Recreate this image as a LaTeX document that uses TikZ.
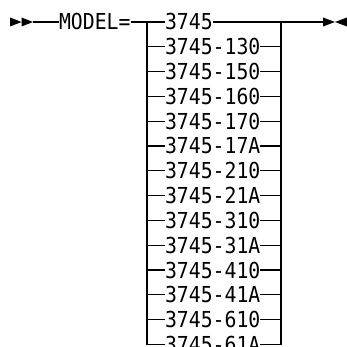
\documentclass[tikz,border=0pt]{standalone}
\usepackage{fontspec}
\setmonofont[FakeStretch=0.9]{DejaVu Sans Mono}
\begin{document}
\begin{tikzpicture}[x=1pt, y=1pt, font=\ttfamily\fontsize{22}{24}\selectfont]
        \tikzset{
            rail/.style={draw=black, line width=1.2pt},
            railTip/.style={fill=black},
            keyword/.style={
                anchor=west,
                inner sep=0pt,
                outer sep=0pt,
                text height=16pt,
                text depth=0pt
            }
        }

        \useasboundingbox (0,0) rectangle (347,-347);

        \coordinate (startArrow) at (33,-22);
        \coordinate (endArrow) at (323,-22);
        \coordinate (leftTop) at (147,-22);
        \coordinate (rightTop) at (281,-22);

        \node[keyword] (modelLabel) at (59,-22) {MODEL=};

        \node[keyword] (opt3745) at (165,-22) {3745};
        \node[keyword] (opt130) at (165,-46.8) {3745-130};
        \node[keyword] (opt150) at (165,-71.6) {3745-150};
        \node[keyword] (opt160) at (165,-96.4) {3745-160};
        \node[keyword] (opt170) at (165,-121.2) {3745-170};
        \node[keyword] (opt17A) at (165,-146) {3745-17A};
        \node[keyword] (opt210) at (165,-170.8) {3745-210};
        \node[keyword] (opt21A) at (165,-195.6) {3745-21A};
        \node[keyword] (opt310) at (165,-220.4) {3745-310};
        \node[keyword] (opt31A) at (165,-245.2) {3745-31A};
        \node[keyword] (opt410) at (165,-270) {3745-410};
        \node[keyword] (opt41A) at (165,-294.8) {3745-41A};
        \node[keyword] (opt610) at (165,-319.6) {3745-610};
        \node[keyword] (opt61A) at (165,-344.4) {3745-61A};

        % main line
        \draw[rail] (startArrow) -- (modelLabel.west);
        \draw[rail] (modelLabel.east) -- (opt3745.west);
        \draw[rail] (opt3745.east) -- (endArrow);

        % left and right bars
        \draw[rail] (leftTop) |- (opt61A.west);
        \draw[rail] (opt61A.east) -| (rightTop);

        \draw[rail] (leftTop |- opt130) -- (opt130.west);
        \draw[rail] (leftTop |- opt150) -- (opt150.west);
        \draw[rail] (leftTop |- opt160) -- (opt160.west);
        \draw[rail] (leftTop |- opt170) -- (opt170.west);
        \draw[rail] (leftTop |- opt17A) -- (opt17A.west);
        \draw[rail] (leftTop |- opt210) -- (opt210.west);
        \draw[rail] (leftTop |- opt21A) -- (opt21A.west);
        \draw[rail] (leftTop |- opt310) -- (opt310.west);
        \draw[rail] (leftTop |- opt31A) -- (opt31A.west);
        \draw[rail] (leftTop |- opt410) -- (opt410.west);
        \draw[rail] (leftTop |- opt41A) -- (opt41A.west);
        \draw[rail] (leftTop |- opt610) -- (opt610.west);

        \draw[rail] (opt130.east) -- (rightTop |- opt130);
        \draw[rail] (opt150.east) -- (rightTop |- opt150);
        \draw[rail] (opt160.east) -- (rightTop |- opt160);
        \draw[rail] (opt170.east) -- (rightTop |- opt170);
        \draw[rail] (opt17A.east) -- (rightTop |- opt17A);
        \draw[rail] (opt210.east) -- (rightTop |- opt210);
        \draw[rail] (opt21A.east) -- (rightTop |- opt21A);
        \draw[rail] (opt310.east) -- (rightTop |- opt310);
        \draw[rail] (opt31A.east) -- (rightTop |- opt31A);
        \draw[rail] (opt410.east) -- (rightTop |- opt410);
        \draw[rail] (opt41A.east) -- (rightTop |- opt41A);
        \draw[rail] (opt610.east) -- (rightTop |- opt610);

        % start and end marks
        \fill[railTip] (10,-17.5) -- (21.5,-22) -- (10,-26.5) -- cycle;
        \fill[railTip] (21.5,-17.5) -- (33,-22) -- (21.5,-26.5) -- cycle;
        \fill[railTip] (323,-17.5) -- (335,-22) -- (323,-26.5) -- cycle;
        \fill[railTip] (347,-17.5) -- (335,-22) -- (347,-26.5) -- cycle;
    \end{tikzpicture}
\end{document}
